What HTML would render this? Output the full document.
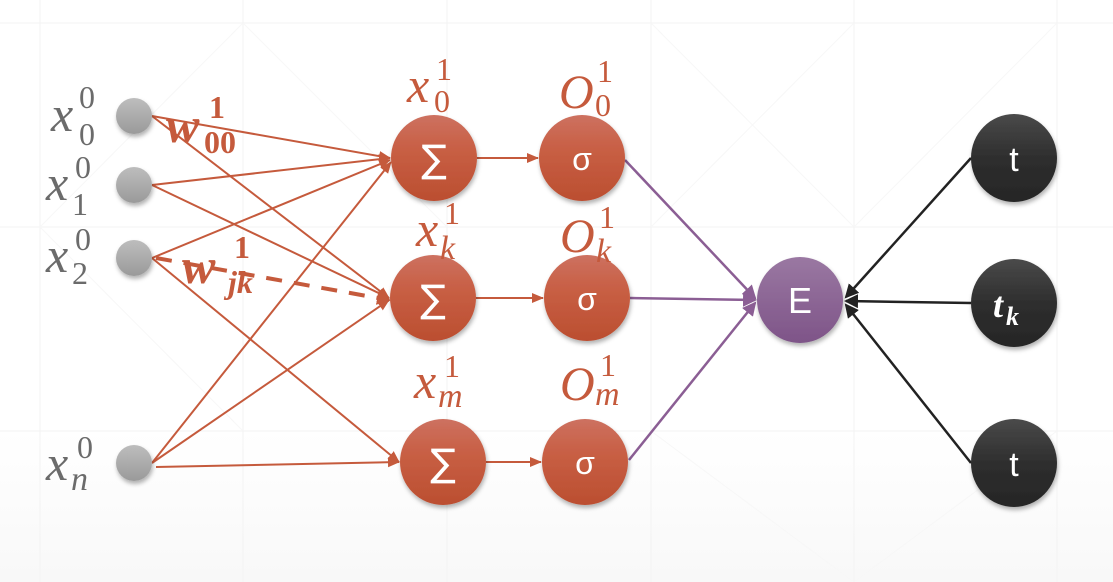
<!DOCTYPE html>
<html><head><meta charset="utf-8"><style>
html,body{margin:0;padding:0;background:#fff;}
svg{display:block;}
.lab{font-family:"Liberation Serif",serif;font-style:italic;}
.n{font-style:normal;}
</style></head><body>
<svg width="1113" height="582" viewBox="0 0 1113 582" xmlns="http://www.w3.org/2000/svg">
<defs>
<linearGradient id="bg" x1="0" y1="0" x2="0" y2="1">
<stop offset="0" stop-color="#ffffff"/><stop offset="0.74" stop-color="#ffffff"/><stop offset="1" stop-color="#f8f8f8"/></linearGradient>
<linearGradient id="og" x1="0" y1="0" x2="0" y2="1">
<stop offset="0" stop-color="#cd7160"/><stop offset="0.4" stop-color="#c85f44"/><stop offset="1" stop-color="#bb4e30"/></linearGradient>
<linearGradient id="gg" x1="0" y1="0" x2="0" y2="1">
<stop offset="0" stop-color="#bdbdbd"/><stop offset="1" stop-color="#9a9a9a"/></linearGradient>
<linearGradient id="pg" x1="0" y1="0" x2="0" y2="1">
<stop offset="0" stop-color="#9a78a2"/><stop offset="1" stop-color="#7e5488"/></linearGradient>
<linearGradient id="dg" x1="0" y1="0" x2="0" y2="1">
<stop offset="0" stop-color="#4a4a4a"/><stop offset="0.5" stop-color="#2e2e2e"/><stop offset="1" stop-color="#262626"/></linearGradient>
<filter id="sh" x="-30%" y="-30%" width="160%" height="160%"><feDropShadow dx="1" dy="3" stdDeviation="2" flood-color="#000" flood-opacity="0.3"/></filter>
<marker id="ao" markerWidth="12" markerHeight="12" refX="11" refY="6" orient="auto" markerUnits="userSpaceOnUse" viewBox="0 0 12 12"><path d="M0,1 L12,6 L0,11 z" fill="#c55a3c"/></marker>
<marker id="ao2" markerWidth="14" markerHeight="14" refX="12" refY="7" orient="auto" markerUnits="userSpaceOnUse" viewBox="0 0 14 14"><path d="M0,0 L14,7 L0,14 z" fill="#c55a3c"/></marker>
<marker id="ap" markerWidth="14" markerHeight="14" refX="12" refY="7" orient="auto" markerUnits="userSpaceOnUse" viewBox="0 0 14 14"><path d="M0,0 L14,7 L0,14 z" fill="#8b5e94"/></marker>
<marker id="ad" markerWidth="14" markerHeight="14" refX="12" refY="7" orient="auto" markerUnits="userSpaceOnUse" viewBox="0 0 14 14"><path d="M0,0 L14,7 L0,14 z" fill="#222"/></marker>
</defs>
<rect width="1113" height="582" fill="url(#bg)"/>
<g stroke="#f3f3f3" stroke-width="1">
<line x1="40" y1="0" x2="40" y2="582"/><line x1="243" y1="0" x2="243" y2="582"/><line x1="447" y1="0" x2="447" y2="582"/><line x1="651" y1="0" x2="651" y2="582"/><line x1="854" y1="0" x2="854" y2="582"/><line x1="1057" y1="0" x2="1057" y2="582"/>
<line x1="0" y1="23" x2="1113" y2="23"/><line x1="0" y1="227" x2="1113" y2="227"/><line x1="0" y1="431" x2="1113" y2="431"/>
</g>
<g stroke="#f7f7f7" stroke-width="1">
<line x1="40" y1="227" x2="243" y2="23"/><line x1="40" y1="227" x2="243" y2="431"/><line x1="243" y1="23" x2="447" y2="227"/><line x1="651" y1="23" x2="854" y2="227"/><line x1="854" y1="23" x2="651" y2="227"/><line x1="854" y1="227" x2="1057" y2="23"/><line x1="651" y1="431" x2="854" y2="582"/><line x1="1057" y1="431" x2="854" y2="582"/>
</g>
<g stroke="#c55a3c" stroke-width="2" fill="none">
<line x1="152" y1="116" x2="390" y2="158" marker-end="url(#ao)"/>
<line x1="152" y1="116" x2="389" y2="298" marker-end="url(#ao)"/>
<line x1="152" y1="185" x2="390" y2="158" marker-end="url(#ao)"/>
<line x1="152" y1="185" x2="389" y2="298" marker-end="url(#ao)"/>
<line x1="152" y1="258" x2="390" y2="160" marker-end="url(#ao)"/>
<line x1="152" y1="258" x2="399" y2="462" marker-end="url(#ao)"/>
<line x1="152" y1="463" x2="391" y2="162" marker-end="url(#ao)"/>
<line x1="152" y1="463" x2="389" y2="300" marker-end="url(#ao)"/>
<line x1="156" y1="467" x2="399" y2="462" marker-end="url(#ao)"/>
<line x1="477" y1="158" x2="538" y2="158" marker-end="url(#ao)"/>
<line x1="476" y1="298" x2="543" y2="298" marker-end="url(#ao)"/>
<line x1="486" y1="462" x2="541" y2="462" marker-end="url(#ao)"/>
</g>
<line x1="156" y1="258" x2="389" y2="300" stroke="#c55a3c" stroke-width="4" stroke-dasharray="16,12" marker-end="url(#ao2)"/>
<g stroke="#8b5e94" stroke-width="2.5">
<line x1="625" y1="160" x2="755" y2="298" marker-end="url(#ap)"/>
<line x1="630" y1="298" x2="755" y2="300" marker-end="url(#ap)"/>
<line x1="629" y1="460" x2="755" y2="303" marker-end="url(#ap)"/>
</g>
<g stroke="#222" stroke-width="2.5">
<line x1="971" y1="158" x2="846" y2="297" marker-end="url(#ad)"/>
<line x1="971" y1="303" x2="846" y2="301" marker-end="url(#ad)"/>
<line x1="971" y1="463" x2="846" y2="305" marker-end="url(#ad)"/>
</g>
<g filter="url(#sh)">
<circle cx="134" cy="116" r="18" fill="url(#gg)"/>
<circle cx="134" cy="185" r="18" fill="url(#gg)"/>
<circle cx="134" cy="258" r="18" fill="url(#gg)"/>
<circle cx="134" cy="463" r="18" fill="url(#gg)"/>
<circle cx="434" cy="158" r="43" fill="url(#og)"/>
<circle cx="582" cy="158" r="43" fill="url(#og)"/>
<circle cx="433" cy="298" r="43" fill="url(#og)"/>
<circle cx="587" cy="298" r="43" fill="url(#og)"/>
<circle cx="443" cy="462" r="43" fill="url(#og)"/>
<circle cx="585" cy="462" r="43" fill="url(#og)"/>
<ellipse cx="800" cy="300" rx="43" ry="43" fill="url(#pg)"/>
<ellipse cx="1014" cy="158" rx="43" ry="44" fill="url(#dg)"/>
<ellipse cx="1014" cy="303" rx="43" ry="44" fill="url(#dg)"/>
<ellipse cx="1014" cy="463" rx="43" ry="44" fill="url(#dg)"/>
</g>
<g fill="#fff" font-family="'Liberation Sans','DejaVu Sans',sans-serif" text-anchor="middle">
<text x="434" y="172" font-size="38" font-family="'DejaVu Sans',sans-serif">∑</text>
<text x="433" y="312" font-size="38" font-family="'DejaVu Sans',sans-serif">∑</text>
<text x="443" y="476" font-size="38" font-family="'DejaVu Sans',sans-serif">∑</text>
<text x="582" y="170" font-size="32">σ</text>
<text x="587" y="310" font-size="32">σ</text>
<text x="585" y="474" font-size="32">σ</text>
<text x="800" y="313" font-size="36">E</text>
<text x="1014" y="171" font-size="34">t</text>
<text x="1014" y="476" font-size="34">t</text>
</g>
<text x="993" y="317" fill="#fff" class="lab" font-weight="bold" font-size="36">t</text>
<text x="1006" y="325" fill="#fff" class="lab" font-weight="bold" font-size="26">k</text>
<g class="lab" fill="#6b6b6b">
<text x="51" y="131" font-size="50">x</text><text x="79" y="108" font-size="32" class="n">0</text><text x="79" y="145" font-size="32" class="n">0</text>
<text x="46" y="200" font-size="50">x</text><text x="75" y="178" font-size="32" class="n">0</text><text x="72" y="215" font-size="32" class="n">1</text>
<text x="46" y="272" font-size="50">x</text><text x="75" y="250" font-size="32" class="n">0</text><text x="72" y="284" font-size="32" class="n">2</text>
<text x="46" y="480" font-size="50">x</text><text x="77" y="458" font-size="32" class="n">0</text><text x="71" y="490" font-size="34">n</text>
</g>
<g class="lab" fill="#c55a3c">
<text x="407" y="102" font-size="50">x</text><text x="436" y="80" font-size="32" class="n">1</text><text x="434" y="112" font-size="32" class="n">0</text>
<text x="559" y="108" font-size="48">O</text><text x="597" y="82" font-size="32" class="n">1</text><text x="595" y="116" font-size="32" class="n">0</text>
<text x="416" y="246" font-size="50">x</text><text x="444" y="224" font-size="32" class="n">1</text><text x="440" y="259" font-size="34">k</text>
<text x="560" y="252" font-size="48">O</text><text x="599" y="228" font-size="32" class="n">1</text><text x="596" y="262" font-size="34">k</text>
<text x="414" y="398" font-size="50">x</text><text x="444" y="377" font-size="32" class="n">1</text><text x="438" y="407" font-size="34">m</text>
<text x="560" y="400" font-size="48">O</text><text x="600" y="376" font-size="32" class="n">1</text><text x="595" y="405" font-size="34">m</text>
<text x="166" y="142" font-size="50" font-weight="bold">w</text><text x="209" y="118" font-size="32" font-weight="bold" class="n">1</text><text x="204" y="153" font-size="32" font-weight="bold" class="n">00</text>
<text x="182" y="283" font-size="50" font-weight="bold">w</text><text x="234" y="258" font-size="32" font-weight="bold" class="n">1</text><text x="228" y="293" font-size="32" font-weight="bold">jk</text>
</g>
</svg>
</body></html>
